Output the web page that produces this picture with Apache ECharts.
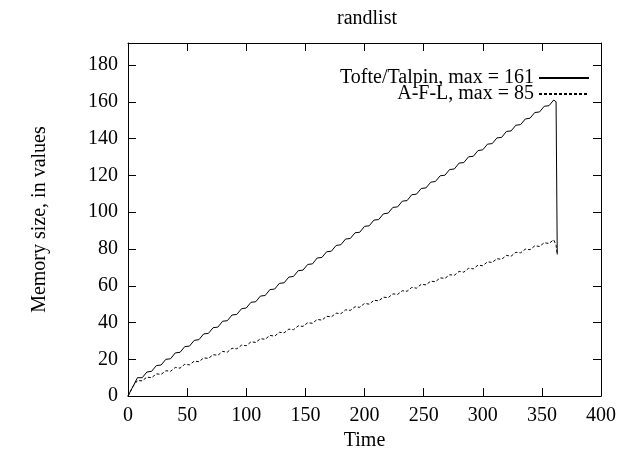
<!DOCTYPE html>
<html>
<head>
<meta charset="utf-8">
<script src="https://cdn.jsdelivr.net/npm/echarts@6/dist/echarts.min.js"></script>
<style>html,body{margin:0;padding:0;background:#fff}#c{width:636px;height:456px}</style>
</head>
<body>
<div id="c"></div>
<script>
var titleText = 'randlist';
var xName = 'Time';
var yName = 'Memory size, in values';
var nameTT = 'Tofte/Talpin, max = 161';
var nameAFL = 'A-F-L, max = 85';

var timeSteps = [0,4,8,12,16,20,24,28,32,36,40,44,48,52,56,60,64,68,72,76,80,84,88,92,96,100,
104,108,112,116,120,124,128,132,136,140,144,148,152,156,160,164,168,172,176,180,184,188,192,196,200,
204,208,212,216,220,224,228,232,236,240,244,248,252,256,260,264,268,272,276,280,284,288,292,296,300,
304,308,312,316,320,324,328,332,336,340,344,348,352,356,360,362,363];

var valuesTT = [0,5,10,10.0,13.1,13.5,16.6,16.9,20.0,20.3,23.5,23.8,26.9,27.2,30.3,30.7,33.8,34.1,37.2,37.5,40.7,41.0,44.1,44.4,47.5,47.9,
51.0,51.3,54.4,54.7,57.9,58.2,61.3,61.6,64.7,65.1,68.2,68.5,71.6,71.9,75.1,75.4,78.5,78.8,81.9,82.3,85.4,85.7,88.8,89.1,92.3,
92.6,95.7,96.0,99.1,99.5,102.6,102.9,106.0,106.3,109.5,109.8,112.9,113.2,116.3,116.7,119.8,120.1,123.2,123.5,126.7,127.0,130.1,130.4,133.5,133.9,
137.0,137.3,140.4,140.7,143.9,144.2,147.3,147.6,150.7,151.1,154.2,154.5,157.6,157.9,161,160,77];

var valuesAFL = [0,5,8.5,8.3,10.3,10.0,12.1,11.8,13.8,13.5,15.6,15.2,17.3,17.0,19.0,18.7,20.8,20.5,22.5,22.2,24.3,23.9,26.0,25.7,27.7,27.4,
29.5,29.2,31.2,30.9,33.0,32.6,34.7,34.4,36.4,36.1,38.2,37.9,39.9,39.6,41.7,41.3,43.4,43.1,45.1,44.8,46.9,46.6,48.6,48.3,50.4,
50.0,52.1,51.8,53.8,53.5,55.6,55.3,57.3,57.0,59.1,58.7,60.8,60.5,62.5,62.2,64.3,64.0,66.0,65.7,67.8,67.4,69.5,69.2,71.2,70.9,
73.0,72.7,74.7,74.4,76.5,76.1,78.2,77.9,79.9,79.6,81.7,81.4,83.4,83.0,85,82,77];

function pairs(xs, ys){ return xs.map(function(x,i){ return [x, ys[i]]; }); }

var FONT = 'Liberation Serif';
var FS = 20;
function axisCommon(){
  return {
    axisLine: {show:true, onZero:false, lineStyle:{color:'#000', width:1}},
    axisTick: {show:true, inside:true, length:8, lineStyle:{color:'#000', width:1}},
    splitLine: {show:false}
  };
}
var legendCommon = {
  orient:'vertical', align:'right', itemWidth:50, itemHeight:14, selectedMode:false,
  textStyle:{fontFamily:FONT, fontSize:FS, color:'#000'},
  itemStyle:{opacity:0, borderWidth:0}
};

var chart = echarts.init(document.getElementById('c'), null, {renderer:'canvas'});
chart.setOption({
  animation:false,
  backgroundColor:'#fff',
  title:{text:titleText, left:362, top:4, textAlign:'center',
    textStyle:{fontFamily:FONT, fontSize:FS, fontWeight:'normal', color:'#000'}},
  legend:[
    Object.assign({data:[nameTT], right:41, top:63}, legendCommon),
    Object.assign({data:[nameAFL], right:41, top:79}, legendCommon)
  ],
  grid:{left:128, right:35, top:43, bottom:54},
  xAxis:[
    Object.assign({type:'value', position:'bottom', min:0, max:400, interval:50,
      name:xName, nameLocation:'middle', nameGap:28,
      nameTextStyle:{fontFamily:FONT, fontSize:FS, color:'#000'},
      axisLabel:{fontFamily:FONT, fontSize:FS, color:'#000', margin:10}}, axisCommon()),
    Object.assign({type:'value', position:'top', min:0, max:400, interval:50,
      axisLabel:{show:false}}, axisCommon())
  ],
  yAxis:[
    Object.assign({type:'value', position:'left', min:0, max:192, interval:20,
      name:yName, nameLocation:'middle', nameGap:78,
      nameTextStyle:{fontFamily:FONT, fontSize:FS, color:'#000'},
      axisLabel:{fontFamily:FONT, fontSize:FS, color:'#000', margin:10, showMaxLabel:false}}, axisCommon()),
    Object.assign({type:'value', position:'right', min:0, max:192, interval:20,
      axisLabel:{show:false}}, axisCommon())
  ],
  series:[
    {name:nameTT, type:'line', data:pairs(timeSteps, valuesTT), symbol:'none', showSymbol:false,
      lineStyle:{color:'#000', width:1}, itemStyle:{color:'#000'}},
    {name:nameAFL, type:'line', data:pairs(timeSteps, valuesAFL), symbol:'none', showSymbol:false,
      lineStyle:{color:'#000', width:1, type:[3,2]}, itemStyle:{color:'#000'}}
  ]
});
</script>
</body>
</html>
